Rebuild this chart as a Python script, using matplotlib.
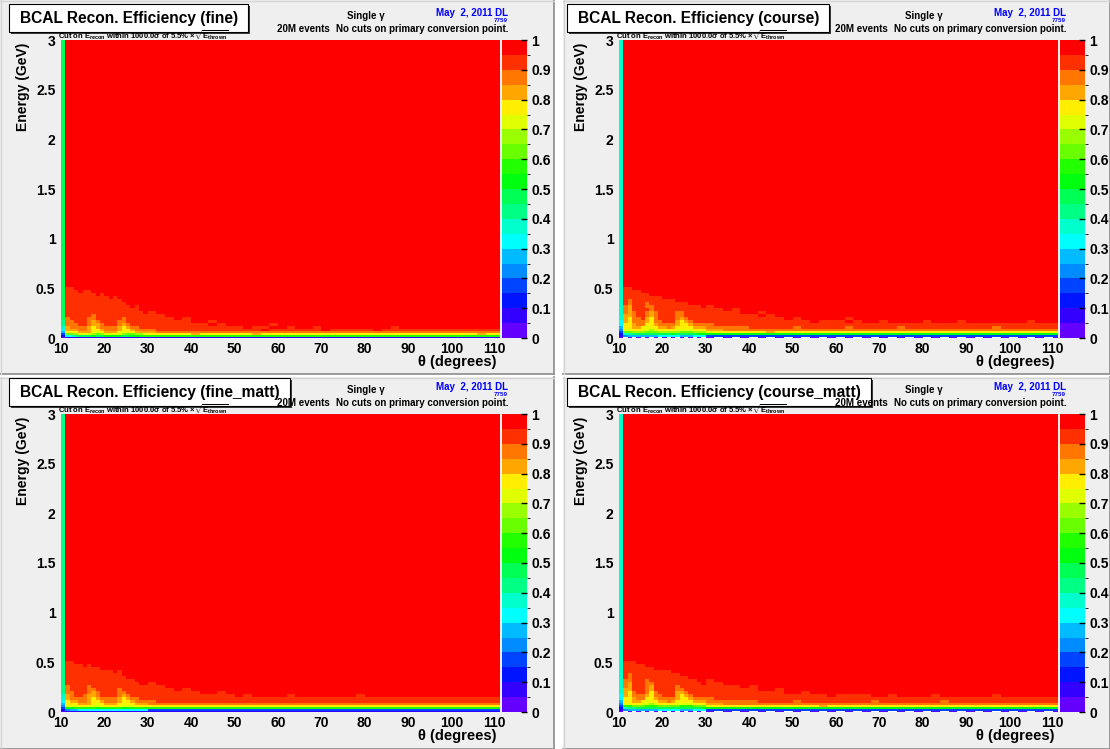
import colorsys
import numpy as np
import matplotlib
matplotlib.use("Agg")
import matplotlib.pyplot as plt
from matplotlib.colors import ListedColormap, BoundaryNorm
from matplotlib.patches import Rectangle

W, H = 1110, 749
plt.rcParams['font.family'] = ['Liberation Sans', 'DejaVu Sans']
plt.rcParams['font.weight'] = 'bold'
plt.rcParams['mathtext.fontset'] = 'custom'
plt.rcParams['mathtext.rm'] = 'Liberation Sans:bold'
plt.rcParams['mathtext.it'] = 'Liberation Sans:bold'
plt.rcParams['mathtext.bf'] = 'Liberation Sans:bold'
plt.rcParams['mathtext.sf'] = 'Liberation Sans:bold'

# bin grid: 1 deg bins up to 30 deg, 2 deg bins above
theta_edges = list(range(10, 30)) + list(range(30, 113, 2))
energy_edges = [0, 0.015, 0.03, 0.05, 0.07, 0.09, 0.12, 0.15, 0.18, 0.21, 0.24,
                0.27, 0.30, 0.33, 0.36, 0.39, 0.42, 0.45, 0.48, 0.51, 3.0]

# efficiency contour level per cell (0..9,a..j = 0.05 steps), '.' = empty bin
# rows from top (0.51-3 GeV) down to bottom (0-0.015 GeV); "theta 10-29 | theta 30-110"
fine_rows = [
    "9jjjjjjjjjjjjjjjjjjj|jjjjjjjjjjjjjjjjjjjjjjjjjjjjjjjjjjjjjjjjj",
    "9iijjjjjjjjjjjjjjjjj|jjjjjjjjjjjjjjjjjjjjjjjjjjjjjjjjjjjjjjjjj",
    "9iiijiijjjjjjjjjjjjj|jjjjjjjjjjjjjjjjjjjjjjjjjjjjjjjjjjjjjjjjj",
    "9iiiiiiijijjjjjjjjjj|jjjjjjjjjjjjjjjjjjjjjjjjjjjjjjjjjjjjjjjjj",
    "9iiiiiiiiiijijjjjjjj|jjjjjjjjjjjjjjjjjjjjjjjjjjjjjjjjjjjjjjjjj",
    "9iiiiiiiiiiiiijjjjjj|jjjjjjjjjjjjjjjjjjjjjjjjjjjjjjjjjjjjjjjjj",
    "9iiiiiiiiiiiiiijjjjj|jjjjjjjjjjjjjjjjjjjjjjjjjjjjjjjjjjjjjjjjj",
    "9iiiiiiiiiiiiiiijijj|jjjjjjjjjjjjjjjjjjjjjjjjjjjjjjjjjjjjjjjjj",
    "9iiiiiiiiiiiiiiiiijj|jjjjjjjjjjjjjjjjjjjjjjjjjjjjjjjjjjjjjjjjj",
    "9iiiiiiiiiiiiiiiiiij|ijjjjjjjjjjjjjjjjjjjjjjjjjjjjjjjjjjjjjjjj",
    "9iiiiiihiiiiiiiiiiii|iijjjjjjjjjjjjjjjjjjjjjjjjjjjjjjjjjjjjjjj",
    "9hiiiihhiiiiiihiiiii|iiijijjjjjjjjjjjjjjjjjjjjjjjjjjjjjjjjjjjj",
    "8hhiiihghiiiihhiiiii|iiiiijjijjjjjjjjjjjjjjjjjjjjjjjjjjjjjjjjj",
    "8hhhiihgghiiihghiiii|iiiiiiijijjjjjijjjjjjjjjjjjjjjjjjjjjjjjjj",
    "7ghhhhgfghhhhgfghhii|iiiiiiiiiiijiijjijjijjjjjjjjijjjjjjjjjjjj",
    "6ggghhgffghhhgffghhh|hiiiiiiiiiiiijiiiiiijiiiiijiiiiiiiiiiiiii",
    "5fffgggfefgggfeffggg|ghhhhhhhhhhhhhhhhhhhhhhhhhhhhhhhhhhhhhhhh",
    "3ccdeeedcdeeeedccdde|fffffgffffffgfffffffffffffffffffffffffgff",
    "2678999a99aaaa99aabb|bbbbbbbbbbbbbbbbbbbbbbbbbbbbbbbbbbbbbbbbb",
    "01111111111111111111|11111111111111111111111111111111111111111",
]

course_rows = [
    "7jjjjjjjjjjjjjjjjjjj|jjjjjjjjjjjjjjjjjjjjjjjjjjjjjjjjjjjjjjjjj",
    "7iijjjjjjjjjjjjjjjjj|jjjjjjjjjjjjjjjjjjjjjjjjjjjjjjjjjjjjjjjjj",
    "7iiiijjjjjjjjjjjjjjj|jjjjjjjjjjjjjjjjjjjjjjjjjjjjjjjjjjjjjjjjj",
    "7iiiiiijjjjjjjjjjjjj|jjjjjjjjjjjjjjjjjjjjjjjjjjjjjjjjjjjjjjjjj",
    "7iiiiiiiiijjjjjjjjjj|jjjjjjjjjjjjjjjjjjjjjjjjjjjjjjjjjjjjjjjjj",
    "7ihiiiiiiiiiijjjjjjj|jjjjjjjjjjjjjjjjjjjjjjjjjjjjjjjjjjjjjjjjj",
    "7ihiiihiiiiiiiiijjjj|jjjjjjjjjjjjjjjjjjjjjjjjjjjjjjjjjjjjjjjjj",
    "7hgiiihhiiiiiiiiiiij|ijjjjjjjjjjjjjjjjjjjjjjjjjjjjjjjjjjjjjjjj",
    "7hgiiiihiiiiiiiiiiii|iijijjjjjjjjjjjjjjjjjjjjjjjjjjjjjjjjjjjjj",
    "7hghiihghiiiihhiiiii|iiiijjijjjjjjjjjjjjjjjjjjjjjjjjjjjjjjjjjj",
    "7gghiihghiiiihhiiiii|iiiiiijijjjjjjjjjjjjjjjjjjjjjjjjjjjjjjjjj",
    "7gfhhigfhiiiihghiiii|iiiiiiiiijijjjjjijjjjjjjjjjjjjjjjjjjjjjjj",
    "6gfhhhgfhhiiigfghiii|iiiiiiiiiiiijiiijijjijjjjijjjijjjjjjjijjj",
    "6ffghhffghhhhgffghhh|hiiiiiiiiiiiiiiiiiiiiiiiiiiiiiiiiiiiiiiii",
    "5ffggfeffgghgffffggg|hhhhhiiiiihiiiiihiiiiihiiiiiiiiiihiiiiiii",
    "4eeffeedeffffeeeefff|gghhhhhhhhhhhhhhhhhhhhhhhhhhhhhhhhhhhhhhh",
    "3ccdddcccdddddcccddd|effffffgffffffffffffffffffffffffffffffeff",
    "278899999999a99999aa|aaaaaaaaaaaaaaaaaaaaaaaaaaaaaaaaaaaaaaaaa",
    "14555555566666555666|33333333333333333333333333333333333333333",
    "0.0.0.0.0.0.0.0.0.0.|0.0.0.0.0.0.0.0.0.0.0.0.0.0.0.0.0.0.0.0.0",
]

fine_matt_rows = [
    "8jjjjjjjjjjjjjjjjjjj|jjjjjjjjjjjjjjjjjjjjjjjjjjjjjjjjjjjjjjjjj",
    "8iijjjjjjjjjjjjjjjjj|jjjjjjjjjjjjjjjjjjjjjjjjjjjjjjjjjjjjjjjjj",
    "8iiiijijjjjjjjjjjjjj|jjjjjjjjjjjjjjjjjjjjjjjjjjjjjjjjjjjjjjjjj",
    "8iiiiiiiijjjjjjjjjjj|jjjjjjjjjjjjjjjjjjjjjjjjjjjjjjjjjjjjjjjjj",
    "8iiiiiiiiiiijijjjjjj|jjjjjjjjjjjjjjjjjjjjjjjjjjjjjjjjjjjjjjjjj",
    "8iiiiiiiiiiiiijjjjjj|jjjjjjjjjjjjjjjjjjjjjjjjjjjjjjjjjjjjjjjjj",
    "8iiiiiiiiiiiiiijjjjj|jjjjjjjjjjjjjjjjjjjjjjjjjjjjjjjjjjjjjjjjj",
    "8iiiiiiiiiiiiiiiijjj|jjjjjjjjjjjjjjjjjjjjjjjjjjjjjjjjjjjjjjjjj",
    "8iiiiiiiiiiiiiiiiijj|ijjjjjjjjjjjjjjjjjjjjjjjjjjjjjjjjjjjjjjjj",
    "8hiiiihiiiiiiiiiiiii|iijjjjjjjjjjjjjjjjjjjjjjjjjjjjjjjjjjjjjjj",
    "8hiiiihhiiiiihiiiiii|iiijijjjjjjjjjjjjjjjjjjjjjjjjjjjjjjjjjjjj",
    "8hhiiihghiiiihhiiiii|iiiiiijjijjjjjjjjjjjjjjjjjjjjjjjjjjjjjjjj",
    "7ghiihgghiiiihghiiii|iiiiiiiiiijijjjjijjjjjjjijjjjjjjjjjjjjjjj",
    "7ghhhhgfghhhhgfghhii|iiiiiiiiiiiiiiiiiiiiiiiiiiiiiiiiiiiiiiiii",
    "6fgghhgffghhhgffghhh|hiiiiiiiiiiiiiiiiiiiiiiiiiiiiiiiiiiiiiiii",
    "5fffgggfefgggfeffggg|hhhhhhhhhhhhhhhhhhhhhhhhhhhhhhhhhhhhhhhhh",
    "4eeeffeeeeffffeeefff|fffffffffffffffffffffffffffffffffffffffff",
    "3aabbbbbabbbbbaabbbb|bbbbbbbbbbbbbbbbbbbbbbbbbbbbbbbbbbbbbbbbb",
    "24556666666666666666|33333333333333333333333333333333333333333",
    "01111111111111111111|11111111111111111111111111111111111111111",
]

course_matt_rows = [
    "7jjjjjjjjjjjjjjjjjjj|jjjjjjjjjjjjjjjjjjjjjjjjjjjjjjjjjjjjjjjjj",
    "7iiijjjjjjjjjjjjjjjj|jjjjjjjjjjjjjjjjjjjjjjjjjjjjjjjjjjjjjjjjj",
    "7iiiiijjjjjjjjjjjjjj|jjjjjjjjjjjjjjjjjjjjjjjjjjjjjjjjjjjjjjjjj",
    "7iiiiiiijjjjjjjjjjjj|jjjjjjjjjjjjjjjjjjjjjjjjjjjjjjjjjjjjjjjjj",
    "7iiiiiiiiiiijjjjjjjj|jjjjjjjjjjjjjjjjjjjjjjjjjjjjjjjjjjjjjjjjj",
    "7ihiiiiiiiiiiijjjjjj|jjjjjjjjjjjjjjjjjjjjjjjjjjjjjjjjjjjjjjjjj",
    "7ihiiiiiiiiiiiiijjjj|jjjjjjjjjjjjjjjjjjjjjjjjjjjjjjjjjjjjjjjjj",
    "7hhiiihiiiiiiiiiiijj|ijjjjjjjjjjjjjjjjjjjjjjjjjjjjjjjjjjjjjjjj",
    "7hgiiihhiiiiiiiiiiij|iijjjjjjjjjjjjjjjjjjjjjjjjjjjjjjjjjjjjjjj",
    "7hgiiihgiiiiihiiiiii|iiiijijjjjjjjjjjjjjjjjjjjjjjjjjjjjjjjjjjj",
    "7ggiiihgiiiiihhiiiii|iiiiiijjijjjjjjjjjjjjjjjjjjjjjjjjjjjjjjjj",
    "7gfhiihfhiiiigghiiii|iiiiiiiiijjijjjjjjjjjjjjjjjjjjjjjjjjjjjjj",
    "6gfhhhgfhhiiigfghiii|iiiiiiiiiiiiiijiiiijjijjjjijjjjjjijjjjjjj",
    "6ffghhffghhhhgffghhh|hiiiiiiiiiiiiiiiiiiiiiiiiiiiiiiiiiiiiiiii",
    "5ffggfeffgghgffffggg|hhhhhhiiiihiiiiiiiihiiiiiiihiiiiiiiiiiiii",
    "4eeffeedeffffeeeefff|gghhhhhhhhhhhhhhhhhhhhhhhhhhhhhhhhhhhhhhh",
    "3bbcccbbbcccccbbbccc|effffffffffffgffffffffffffffffffffffffeff",
    "2788999999999999999a|aaaaaaaaaaaaaaaaaaaaaaaaaaaaaaaaaaaaaaaaa",
    "14555555566666555666|33333333333333333333333333333333333333333",
    "0.0.0.0.0.0.0.0.0.0.|0.0.0.0.0.0.0.0.0.0.0.0.0.0.0.0.0.0.0.0.0",
]

titles = ["BCAL Recon. Efficiency (fine)", "BCAL Recon. Efficiency (course)",
          "BCAL Recon. Efficiency (fine_matt)", "BCAL Recon. Efficiency (course_matt)"]
x_ticks = [10, 20, 30, 40, 50, 60, 70, 80, 90, 100, 110]
y_ticks = [0, 0.5, 1, 1.5, 2, 2.5, 3]
y_ticklabels = ["0", "0.5", "1", "1.5", "2", "2.5", "3"]
z_ticks = [0, 0.1, 0.2, 0.3, 0.4, 0.5, 0.6, 0.7, 0.8, 0.9, 1]
z_ticklabels = ["0", "0.1", "0.2", "0.3", "0.4", "0.5", "0.6", "0.7", "0.8", "0.9", "1"]

# ROOT "pretty" palette (HLS, violet -> red), 20 contours
pal = []
for k in range(20):
    ic = int((k + 0.99) * 50 / 20)
    hue = 280 - (ic + 1) * 280 / 50
    pal.append(colorsys.hls_to_rgb(hue / 360, 0.5, 1.0))
cmap = ListedColormap(pal)
norm = BoundaryNorm(np.linspace(0, 1, 21), 20)

codes = "0123456789abcdefghij"


def make_grid(rows):
    out = []
    for r in rows[::-1]:
        f, c = r.split("|")
        f = (f + f[-1] * 20)[:20]
        c = (c + c[-1] * 41)[:41]
        out.append([np.nan if ch == "." else (codes.index(ch) + 0.5) / 20 for ch in f + c])
    return np.ma.masked_invalid(np.array(out))


fig = plt.figure(figsize=(W / 100, H / 100), dpi=100)
fig.patch.set_facecolor("white")


def px_axes(x0, y0, x1, y1):
    return fig.add_axes([x0 / W, 1 - y1 / H, (x1 - x0) / W, (y1 - y0) / H])


def ftext(x, y, s, **kw):
    return fig.text(x / W, 1 - y / H, s, **kw)


def px_rect(x0, y0, x1, y1, **kw):
    r = Rectangle((x0 / W, 1 - y1 / H), (x1 - x0) / W, (y1 - y0) / H,
                  transform=fig.transFigure, **kw)
    fig.add_artist(r)
    return r


def px_line(xs, ys, **kw):
    fig.add_artist(plt.Line2D([x / W for x in xs], [1 - y / H for y in ys],
                              transform=fig.transFigure, **kw))


renderer = fig.canvas.get_renderer()


def panel(ox, oy, pad, title, rows):
    # pad background with bevel
    x0, y0, x1, y1 = pad
    px_rect(x0, y0, x1, y1, facecolor="#efefef", edgecolor="none", zorder=-10)
    px_line([x0, x1], [y1 - 0.5, y1 - 0.5], color="#8c8c8c", lw=1.2, zorder=-9)
    px_line([x1 - 0.5, x1 - 0.5], [y0, y1], color="#8c8c8c", lw=1.2, zorder=-9)
    px_line([x0, x1], [y0 + 0.5, y0 + 0.5], color="#d4d4d4", lw=1, zorder=-9)
    px_line([x0 + 0.5, x0 + 0.5], [y0, y1], color="#d4d4d4", lw=1, zorder=-9)

    ax = px_axes(ox + 61, oy + 40, ox + 500, oy + 338)
    ax.set_facecolor("white")
    ax.pcolormesh(theta_edges, energy_edges, make_grid(rows), cmap=cmap, norm=norm)
    ax.set_xlim(10, 111.2)
    ax.set_ylim(0, 3)
    ax.set_xticks(x_ticks)
    ax.set_xticklabels([str(t) for t in x_ticks])
    ax.set_yticks(y_ticks)
    ax.set_yticklabels(y_ticklabels)
    ax.tick_params(length=0, labelsize=10, pad=4)
    ax.tick_params(axis="x", pad=3)
    for s in ax.spines.values():
        s.set_visible(False)

    cax = px_axes(ox + 502, oy + 40, ox + 527, oy + 338)
    sm = plt.cm.ScalarMappable(norm=norm, cmap=cmap)
    cb = fig.colorbar(sm, cax=cax)
    cb.outline.set_visible(False)
    cb.set_ticks(z_ticks)
    cb.set_ticklabels(z_ticklabels)
    cax.tick_params(direction="in", length=4, width=1, labelsize=10, pad=3, color="black")

    # title box with shadow
    t = ftext(ox + 20, oy + 18.5, title, fontsize=11.2, va="center", ha="left", zorder=5)
    bb = t.get_window_extent(renderer)
    right = bb.x1 + 10
    px_rect(ox + 11, oy + 6, right + 2, oy + 34, facecolor="#3c3c3c", edgecolor="none", zorder=1)
    px_rect(ox + 9, oy + 4, right, oy + 32, facecolor="white", edgecolor="black", lw=0.8, zorder=2)

    ftext(ox + 366, oy + 16, "Single γ", fontsize=7, ha="center", va="center", zorder=6)
    ftext(ox + 508, oy + 13.5, "May  2, 2011 DL", fontsize=7, ha="right", va="center",
          color="#0000ff", zorder=6)
    ftext(ox + 508, oy + 21, "7759", fontsize=4.5, ha="right", va="center", color="#0000ff", zorder=6)
    ftext(ox + 330, oy + 29, "20M events", fontsize=7, ha="right", va="center", zorder=6)
    ftext(ox + 508, oy + 29, "No cuts on primary conversion point.", fontsize=7, ha="right",
          va="center", zorder=6)
    ftext(ox + 58, oy + 35, r"Cut on E$_{\rm recon}$ within 1000.0$\sigma$ of 5.5% $\times\sqrt{\rm E_{thrown}}$",
          fontsize=5.5, ha="left", va="center", zorder=6)
    ftext(ox + 23, oy + 43, "Energy (GeV)", fontsize=10, rotation=90, ha="center", va="top")
    ftext(ox + 497, oy + 362, "θ (degrees)", fontsize=10.5, ha="right", va="center")


panel(0, 0, (0, 0, 554, 374), titles[0], fine_rows)
panel(558, 0, (563, 0, 1110, 374), titles[1], course_rows)
panel(0, 374, (0, 377, 554, 749), titles[2], fine_matt_rows)
panel(558, 374, (563, 377, 1110, 749), titles[3], course_matt_rows)

fig.savefig("out.png", dpi=100, facecolor=fig.get_facecolor())
